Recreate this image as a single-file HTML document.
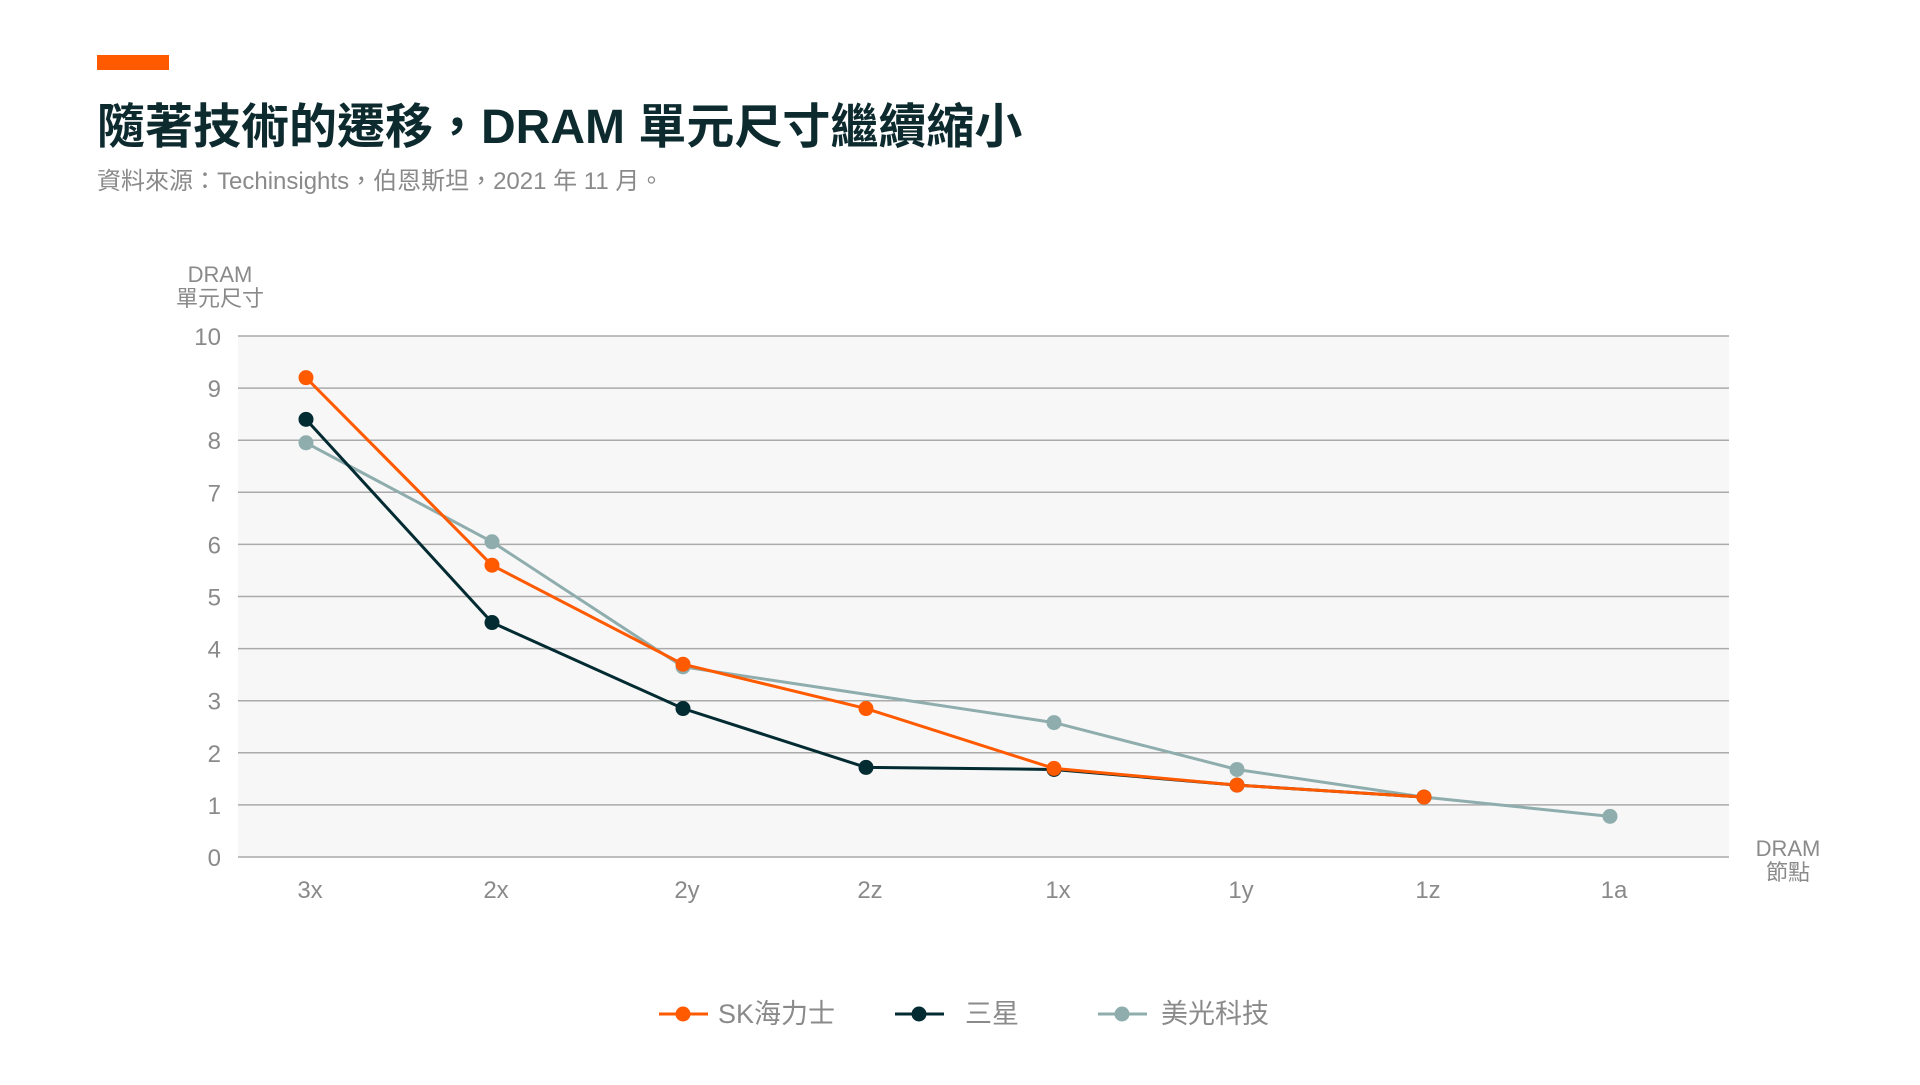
<!DOCTYPE html>
<html><head><meta charset="utf-8"><style>
body{margin:0;width:1920px;height:1080px;background:#fff;overflow:hidden;font-family:"Liberation Sans","Noto Sans CJK TC",sans-serif}
</style></head><body>
<svg width="1920" height="1080" xmlns="http://www.w3.org/2000/svg">
<rect x="97" y="55" width="72" height="15" fill="#ff5a00"/>
<text x="97" y="143" font-size="48" font-weight="bold" fill="#0d2b2f" font-family="Liberation Sans,Noto Sans CJK TC,sans-serif">隨著技術的遷移，DRAM 單元尺寸繼續縮小</text>
<text x="97" y="189" font-size="24" fill="#8a8a8a" font-family="Liberation Sans,Noto Sans CJK TC,sans-serif">資料來源：Techinsights，伯恩斯坦，2021 年 11 月。</text>
<rect x="238" y="336" width="1491" height="521" fill="#f7f7f7"/>
<g id="grid"></g><g id="series"></g>
<text x="220" y="282" font-size="22" fill="#8a8a8a" text-anchor="middle">DRAM</text>
<text x="220" y="306" font-size="22" fill="#8a8a8a" text-anchor="middle" font-family="Noto Sans CJK TC,sans-serif">單元尺寸</text>
<text x="1788" y="856" font-size="22" fill="#8a8a8a" text-anchor="middle">DRAM</text>
<text x="1788" y="880" font-size="22" fill="#8a8a8a" text-anchor="middle" font-family="Noto Sans CJK TC,sans-serif">節點</text>
<g>
<line x1="659" y1="1014" x2="708" y2="1014" stroke="#ff5a00" stroke-width="3"/><circle cx="683" cy="1014" r="7.5" fill="#ff5a00"/>
<text x="718" y="1023" font-size="27" fill="#8a8a8a" font-family="Liberation Sans,Noto Sans CJK TC,sans-serif">SK海力士</text>
<line x1="895" y1="1014" x2="944" y2="1014" stroke="#032b32" stroke-width="3"/><circle cx="919" cy="1014" r="7.5" fill="#032b32"/>
<text x="965" y="1023" font-size="27" fill="#8a8a8a" font-family="Noto Sans CJK TC,sans-serif">三星</text>
<line x1="1098" y1="1014" x2="1147" y2="1014" stroke="#8fadad" stroke-width="3"/><circle cx="1122" cy="1014" r="7.5" fill="#8fadad"/>
<text x="1161" y="1023" font-size="27" fill="#8a8a8a" font-family="Noto Sans CJK TC,sans-serif">美光科技</text>
</g>
</svg>
<script>
const categories=["3x","2x","2y","2z","1x","1y","1z","1a"];
const yTicks=[0,1,2,3,4,5,6,7,8,9,10];
const skHynix=[9.2,5.6,3.7,2.85,1.7,1.38,1.15,null];
const samsung=[8.4,4.5,2.85,1.72,1.68,1.38,1.15,null];
const micron=[7.95,6.05,3.65,null,2.58,1.68,1.15,0.78];
const NS="http://www.w3.org/2000/svg";
const catPx=[306,492,683,866,1054,1237,1424,1610];
function xs(i){return catPx[i];}
function ys(v){return 857-v*52.1;}
const grid=document.getElementById('grid');
yTicks.forEach(t=>{
  const l=document.createElementNS(NS,'line');
  
  
  l.setAttribute('x1',238);l.setAttribute('x2',1729);l.setAttribute('y1',ys(t));l.setAttribute('y2',ys(t));
  l.setAttribute('stroke','#aaaaaa');l.setAttribute('stroke-width','1.5');grid.appendChild(l);
  const tx=document.createElementNS(NS,'text');
  
  
  tx.setAttribute('x',221);tx.setAttribute('y',ys(t)+9);tx.setAttribute('text-anchor','end');
  tx.setAttribute('font-size','24');tx.setAttribute('fill','#8a8a8a');tx.textContent=t;grid.appendChild(tx);
});
categories.forEach((c,i)=>{
  const tx=document.createElementNS(NS,'text');
  
  
  tx.setAttribute('x',xs(i)+4);tx.setAttribute('y',898);tx.setAttribute('text-anchor','middle');
  tx.setAttribute('font-size','24');tx.setAttribute('fill','#8a8a8a');tx.textContent=c;grid.appendChild(tx);
});
const sg=document.getElementById('series');
[[micron,'#8fadad','micron'],[samsung,'#032b32','samsung'],[skHynix,'#ff5a00','sk-hynix']].forEach(([d,col,nm])=>{
  const pts=[];d.forEach((v,i)=>{if(v!==null)pts.push([xs(i),ys(v)]);});
  const p=document.createElementNS(NS,'polyline');
  
  
  p.setAttribute('points',pts.map(q=>q.join(',')).join(' '));
  p.setAttribute('fill','none');p.setAttribute('stroke',col);p.setAttribute('stroke-width','3');sg.appendChild(p);
  pts.forEach(q=>{
    const c=document.createElementNS(NS,'circle');
    
    
    c.setAttribute('cx',q[0]);c.setAttribute('cy',q[1]);c.setAttribute('r','7.5');c.setAttribute('fill',col);sg.appendChild(c);
  });
});
</script>
</body></html>
